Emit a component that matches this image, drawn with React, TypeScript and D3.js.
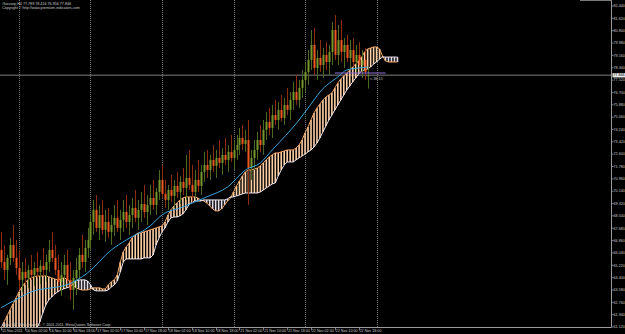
import React from "react";
import * as d3 from "d3";

// ---------- DATA ----------
const titleText = "#housep,H4  77.789 78.416 76.956 77.846";
const copyrightText = "Copyright © http://www.premium-indicators.com";
const footerText = "Alpari NZ MetaTrader 4, © 2001-2011, MetaQuotes Software Corp.";
const timerText = "<-36:15";

const priceTicks = [82.44, 81.62, 80.8, 79.98, 79.16, 78.34, 77.52, 76.7, 75.88, 75.06, 74.24, 73.42, 72.6, 71.78, 70.96, 70.14, 69.32, 68.5, 67.68, 66.86, 66.04, 65.22, 64.4, 63.58, 62.76, 61.94, 61.12];
const currentPrice = 77.846;

const timeLabels = ["15 Nov 2011", "16 Nov 02:00", "16 Nov 10:00", "16 Nov 18:00", "17 Nov 02:00", "17 Nov 10:00", "17 Nov 18:00", "18 Nov 02:00", "18 Nov 10:00", "18 Nov 18:00", "21 Nov 02:00", "21 Nov 10:00", "21 Nov 18:00", "22 Nov 02:00", "22 Nov 10:00", "22 Nov 18:00"];
const timeLabelBars = [0, 8, 16, 24, 32, 40, 48, 56, 64, 72, 80, 88, 96, 104, 112, 120];
const daySeparatorBars = [6, 30, 54, 78, 102, 126];

const opens = [
  66.24, 65.44, 64.91, 65.71, 66.57, 65.71, 65.04, 64.25,
  64.78, 64.38, 64.91, 64.58, 65.04, 64.78, 65.18, 64.91,
  65.44, 66.24, 65.71, 64.91, 64.12, 64.58, 65.24, 64.25,
  63.58, 64.38, 64.91, 65.91, 65.44, 66.37, 66.9, 68.1,
  68.9, 67.7, 68.56, 67.57, 68.1, 67.44, 67.9, 68.37,
  67.7, 68.23, 68.76, 68.1, 68.56, 69.03, 68.37, 68.9,
  69.29, 68.76, 69.23, 69.69, 69.23, 70.09, 70.89, 69.96,
  69.56, 70.22, 69.83, 70.49, 70.09, 70.76, 70.36, 71.02,
  70.56, 70.09, 70.89, 70.49, 71.42, 71.88, 71.55, 72.22,
  71.82, 72.35, 72.02, 72.55, 72.22, 72.75, 72.35, 72.88,
  73.21, 73.68, 73.28, 73.54, 71.68, 72.35, 72.88, 73.54,
  73.21, 74.21, 74.74, 74.34, 75.2, 74.87, 75.54, 75.0,
  75.87, 75.54, 76.2, 76.73, 76.2, 77.0, 77.53, 78.06,
  78.86, 79.85, 78.32, 78.99, 78.52, 79.19, 78.72, 79.39,
  80.85, 79.19, 80.18, 79.39, 79.85, 78.99, 79.52, 78.72,
  79.19, 78.52, 78.86, 77.789,
];
const highs = [
  67.44, 66.57, 65.91, 67.04, 67.9, 66.9, 66.24, 65.44,
  65.71, 65.24, 65.91, 65.44, 66.11, 65.58, 66.37, 65.91,
  66.9, 67.44, 66.57, 65.91, 65.44, 65.91, 66.24, 65.44,
  64.91, 65.71, 66.37, 67.24, 66.9, 67.7, 68.56, 69.56,
  69.89, 69.23, 69.56, 68.9, 69.03, 68.56, 69.23, 69.56,
  68.9, 69.56, 69.89, 69.23, 69.69, 70.22, 69.56, 70.09,
  70.56, 69.89, 70.56, 70.89, 70.36, 71.55, 71.88, 70.89,
  70.56, 71.22, 70.89, 71.42, 71.15, 71.68, 72.55, 72.88,
  71.88, 71.55, 72.22, 71.88, 72.75, 72.88, 72.55, 73.21,
  72.88, 73.54, 73.01, 73.68, 73.21, 73.88, 73.54, 73.88,
  74.34, 74.54, 74.21, 74.87, 72.88, 73.54, 74.08, 74.54,
  74.87, 75.4, 75.67, 75.87, 76.2, 76.07, 76.53, 76.33,
  77.0, 76.73, 77.4, 77.86, 77.53, 78.19, 78.72, 79.52,
  80.85, 80.98, 79.52, 80.18, 79.65, 80.05, 79.85, 81.38,
  81.84, 81.18, 81.51, 80.32, 80.52, 80.18, 80.32, 79.85,
  80.05, 79.52, 79.65, 78.416,
];
const lows = [
  65.04, 64.25, 63.92, 65.24, 65.44, 64.58, 63.58, 63.45,
  63.92, 63.72, 64.25, 63.85, 64.38, 63.98, 64.51, 64.12,
  64.78, 65.44, 64.58, 63.58, 63.19, 63.72, 63.92, 62.92,
  62.26, 63.25, 64.25, 65.04, 64.78, 65.71, 66.24, 67.24,
  67.44, 66.9, 67.24, 66.77, 67.04, 66.57, 67.17, 67.44,
  66.9, 67.44, 67.7, 67.24, 67.7, 68.1, 67.57, 68.1,
  68.37, 67.9, 68.56, 68.9, 68.56, 69.56, 69.69, 69.03,
  68.9, 69.43, 69.03, 69.69, 69.29, 69.89, 69.56, 70.22,
  69.36, 69.69, 70.09, 69.89, 70.76, 71.02, 70.89, 71.42,
  71.02, 71.68, 71.22, 71.88, 71.42, 72.08, 71.55, 72.22,
  72.55, 72.88, 72.75, 69.23, 70.89, 71.55, 72.22, 72.75,
  72.55, 73.54, 73.88, 73.68, 74.54, 74.21, 74.74, 74.54,
  75.2, 74.87, 75.54, 75.87, 75.67, 76.33, 76.73, 77.2,
  78.19, 77.86, 77.53, 78.06, 77.66, 78.19, 77.86, 78.52,
  78.86, 78.52, 78.72, 78.32, 78.72, 78.19, 78.46, 78.06,
  78.19, 77.66, 77.53, 76.956,
];
const closes = [
  65.44, 64.91, 65.71, 66.57, 65.71, 65.04, 64.25, 64.78,
  64.38, 64.91, 64.58, 65.04, 64.78, 65.18, 64.91, 65.44,
  66.24, 65.71, 64.91, 64.12, 64.58, 65.24, 64.25, 63.58,
  64.38, 64.91, 65.91, 65.44, 66.37, 66.9, 68.1, 68.9,
  67.7, 68.56, 67.57, 68.1, 67.44, 67.9, 68.37, 67.7,
  68.23, 68.76, 68.1, 68.56, 69.03, 68.37, 68.9, 69.29,
  68.76, 69.23, 69.69, 69.23, 70.09, 70.89, 69.96, 69.56,
  70.22, 69.83, 70.49, 70.09, 70.76, 70.36, 71.02, 70.56,
  70.09, 70.89, 70.49, 71.42, 71.88, 71.55, 72.22, 71.82,
  72.35, 72.02, 72.55, 72.22, 72.75, 72.35, 72.88, 73.21,
  73.68, 73.28, 73.54, 71.68, 72.35, 72.88, 73.54, 73.21,
  74.21, 74.74, 74.34, 75.2, 74.87, 75.54, 75.0, 75.87,
  75.54, 76.2, 76.73, 76.2, 77.0, 77.53, 78.06, 78.86,
  79.85, 78.32, 78.99, 78.52, 79.19, 78.72, 79.39, 80.85,
  79.19, 80.18, 79.39, 79.85, 78.99, 79.52, 78.72, 79.19,
  78.52, 78.86, 78.06, 77.846,
];

const spanA = [
  61.06, 61.46, 61.86, 62.26, 62.65, 63.05, 63.45, 63.78,
  64.05, 64.25, 64.38, 64.45, 64.51, 64.51, 64.51, 64.51,
  64.45, 64.38, 64.31, 64.25, 64.31, 64.38, 64.31, 64.18,
  63.98, 63.72, 63.65, 63.58, 63.58, 63.58, 63.65, 63.72,
  63.72, 63.72, 63.65, 63.65, 63.92, 64.12, 64.25, 64.58,
  65.44, 66.11, 66.44, 66.7, 67.04, 67.24, 67.37, 67.37,
  67.44, 67.5, 67.57, 67.63, 67.7, 67.77, 67.83, 68.1,
  68.56, 68.9, 69.16, 69.36, 69.56, 69.69, 69.76, 69.76,
  69.76, 69.76, 69.69, 69.56, 69.49, 69.36, 69.16, 68.96,
  68.83, 68.83, 68.96, 69.23, 69.49, 69.69, 70.09, 70.49,
  70.82, 71.15, 71.42, 71.55, 71.55, 71.62, 71.68, 71.82,
  72.02, 72.22, 72.42, 72.55, 72.68, 72.68, 72.75, 72.81,
  72.88, 72.88, 72.88, 73.01, 73.21, 73.54, 74.01, 74.41,
  74.87, 75.34, 75.67, 75.93, 76.2, 76.4, 76.53, 76.66,
  77.0, 77.33, 77.6, 77.79, 77.99, 78.19, 78.39, 78.59,
  78.79, 79.05, 79.39, 79.59, 79.65, 79.72, 79.72, 79.59,
  79.12, 78.79, 78.72, 78.72, 78.72, 78.72,
];
const spanB = [
  59.93, 59.93, 59.93, 59.93, 59.93, 59.93, 59.93, 59.93,
  60.13, 60.4, 60.53, 60.73, 61.06, 61.46, 62.06, 62.59,
  62.92, 63.12, 63.32, 63.45, 63.58, 63.65, 63.72, 63.78,
  63.92, 64.18, 64.25, 64.25, 64.25, 64.18, 63.92, 63.58,
  63.52, 63.52, 63.52, 63.52, 63.58, 63.78, 63.92, 64.18,
  64.78, 65.44, 65.64, 65.64, 65.64, 65.64, 65.64, 65.64,
  65.71, 65.71, 65.71, 65.91, 66.57, 67.04, 67.44, 67.7,
  68.1, 68.37, 68.43, 68.43, 68.5, 68.63, 68.9, 69.23,
  69.43, 69.49, 69.49, 69.49, 69.56, 69.56, 69.56, 69.56,
  69.56, 69.56, 69.56, 69.56, 69.63, 69.76, 69.76, 69.83,
  69.89, 69.96, 70.02, 70.02, 70.02, 70.02, 70.02, 70.09,
  70.22, 70.36, 70.49, 70.62, 70.69, 71.15, 71.55, 71.88,
  72.08, 72.08, 72.08, 72.22, 72.35, 72.48, 72.61, 72.75,
  72.88, 73.08, 73.34, 73.68, 74.08, 74.47, 74.87, 75.2,
  75.54, 75.87, 76.2, 76.53, 76.86, 77.13, 77.4, 77.66,
  77.93, 78.13, 78.19, 78.26, 78.39, 78.59, 78.72, 78.92,
  79.05, 79.05, 79.05, 79.05, 79.05, 79.05,
];

const maBars = [0, 6, 11, 17, 22, 29, 37, 42, 50, 54, 61, 69, 76, 82, 87, 91, 100, 105, 107, 113, 116, 120, 123];
const maValues = [62.4, 63.05, 63.52, 63.72, 63.92, 64.71, 66.24, 66.9, 67.83, 68.56, 69.1, 69.76, 70.42, 71.55, 72.02, 72.88, 74.87, 76.2, 76.73, 77.73, 78.19, 78.32, 78.39];

const purpleLevel = 77.99;
const purpleFromBar = 112;
const purpleToBar = 129;

// ---------- LAYOUT / STYLE ----------
const W = 625;
const H = 334;
const plotRight = 611.5;
const plotBottom = 327.5;
const FONT = "'Liberation Sans', Arial, sans-serif";
const FS = 3.7;
const textColor = "#c8c8c8";
const bodyUp = "#76962c";
const bodyDown = "#ee5622";
const wickUp = "#4d6a22";
const wickDown = "#8e2c12";
const kumoUp = "#ffd0a6";
const kumoDown = "#e4dce8";

const xScale = d3.scaleLinear().domain([0, 133]).range([1.1, 1.1 + 2.98 * 133]);
const yScale = d3.scaleLinear().domain([61.12, 82.44]).range([327, 6]);

export default function App() {
  const lineA = d3.line<number>().x((_, i) => xScale(i)).y((d) => yScale(d));
  const lineB = d3.line<number>().x((_, i) => xScale(i)).y((d) => yScale(d));
  const maLine = d3
    .line<number>()
    .x((_, i) => xScale(maBars[i]))
    .y((d) => yScale(d))
    .curve(d3.curveMonotoneX);

  return (
    <div style={{ position: "absolute", left: 0, top: 0 }}>
      <svg width={W} height={H} style={{ display: "block", background: "#000" }}>
        <defs>
          <clipPath id="plot">
            <rect x={0} y={0} width={plotRight} height={plotBottom} />
          </clipPath>
        </defs>
        <rect x={0} y={0} width={W} height={H} fill="#000" />

        <g clipPath="url(#plot)">
          {daySeparatorBars.map((b) => {
            const x = Math.round(xScale(b)) + 0.5;
            return (
              <line key={"sep" + b} x1={x} x2={x} y1={0} y2={plotBottom} stroke="#6e6e6e" strokeWidth={1} strokeDasharray="1,1" />
            );
          })}

          <line x1={0} x2={plotRight} y1={yScale(currentPrice)} y2={yScale(currentPrice)} stroke="#808080" strokeWidth={1} />

          {spanA.map((a, i) => {
            const b = spanB[i];
            const x = xScale(i);
            return (
              <line key={"k" + i} x1={x} x2={x} y1={yScale(a)} y2={yScale(b)} stroke={a >= b ? kumoUp : kumoDown} strokeWidth={1.6} />
            );
          })}
          <path d={lineA(spanA) || ""} fill="none" stroke="#f4a460" strokeWidth={1} />
          <path d={lineB(spanB) || ""} fill="none" stroke="#eee6f0" strokeWidth={1} />

          {opens.map((o, i) => {
            const c = closes[i];
            const up = c >= o;
            const cx = Math.round(xScale(i));
            const yT = yScale(Math.max(o, c));
            const yB = yScale(Math.min(o, c));
            return (
              <g key={"c" + i}>
                <line x1={cx + 0.5} x2={cx + 0.5} y1={yScale(highs[i])} y2={yScale(lows[i])} stroke={up ? wickUp : wickDown} strokeWidth={1} />
                <rect x={cx - 0.5} y={yT} width={2} height={Math.max(1, yB - yT)} fill={up ? bodyUp : bodyDown} />
              </g>
            );
          })}

          <path d={maLine(maValues) || ""} fill="none" stroke="#3aa6dc" strokeWidth={1} />

          <line x1={xScale(purpleFromBar)} x2={xScale(purpleToBar)} y1={yScale(purpleLevel)} y2={yScale(purpleLevel)} stroke="#9370db" strokeWidth={1} />
        </g>

        <line x1={plotRight} x2={plotRight} y1={0} y2={plotBottom} stroke="#9a9a9a" strokeWidth={1} />
        <line x1={0} x2={plotRight} y1={plotBottom} y2={plotBottom} stroke="#9a9a9a" strokeWidth={1} />
        <line x1={580} x2={plotRight} y1={0.5} y2={0.5} stroke="#7a7a7a" strokeWidth={1} />

        {priceTicks.map((p) => (
          <g key={"pt" + p}>
            <line x1={plotRight} x2={plotRight + 2} y1={yScale(p)} y2={yScale(p)} stroke="#9a9a9a" strokeWidth={0.8} />
            <text x={613.5} y={yScale(p) + 1.3} fontSize={FS} fontFamily={FONT} fill={textColor}>
              {p.toFixed(3)}
            </text>
          </g>
        ))}
        <rect x={612.5} y={yScale(currentPrice) - 2.1} width={12.5} height={4.4} fill="#e8e8e8" />
        <text x={613.3} y={yScale(currentPrice) + 1.3} fontSize={FS} fontFamily={FONT} fill="#000">
          {currentPrice.toFixed(3)}
        </text>

        {timeLabelBars.map((b, k) => {
          const x = xScale(b);
          return (
            <g key={"tl" + b}>
              <line x1={Math.round(x) + 0.5} x2={Math.round(x) + 0.5} y1={plotBottom} y2={plotBottom + 3} stroke="#9a9a9a" strokeWidth={0.8} />
              <text x={x + 0.8} y={332} fontSize={FS} fontFamily={FONT} fill={textColor}>
                {timeLabels[k]}
              </text>
            </g>
          );
        })}

        <text x={2} y={4.6} fontSize={FS} fontFamily={FONT} fill={textColor}>{titleText}</text>
        <text x={2} y={8.5} fontSize={FS} fontFamily={FONT} fill={textColor}>{copyrightText}</text>
        <text x={2} y={325.5} fontSize={FS} fontFamily={FONT} fill={textColor}>{footerText}</text>
        <text x={xScale(124) - 0.5} y={79.6} fontSize={FS} fontFamily={FONT} fill={textColor}>{timerText}</text>
      </svg>
    </div>
  );
}
